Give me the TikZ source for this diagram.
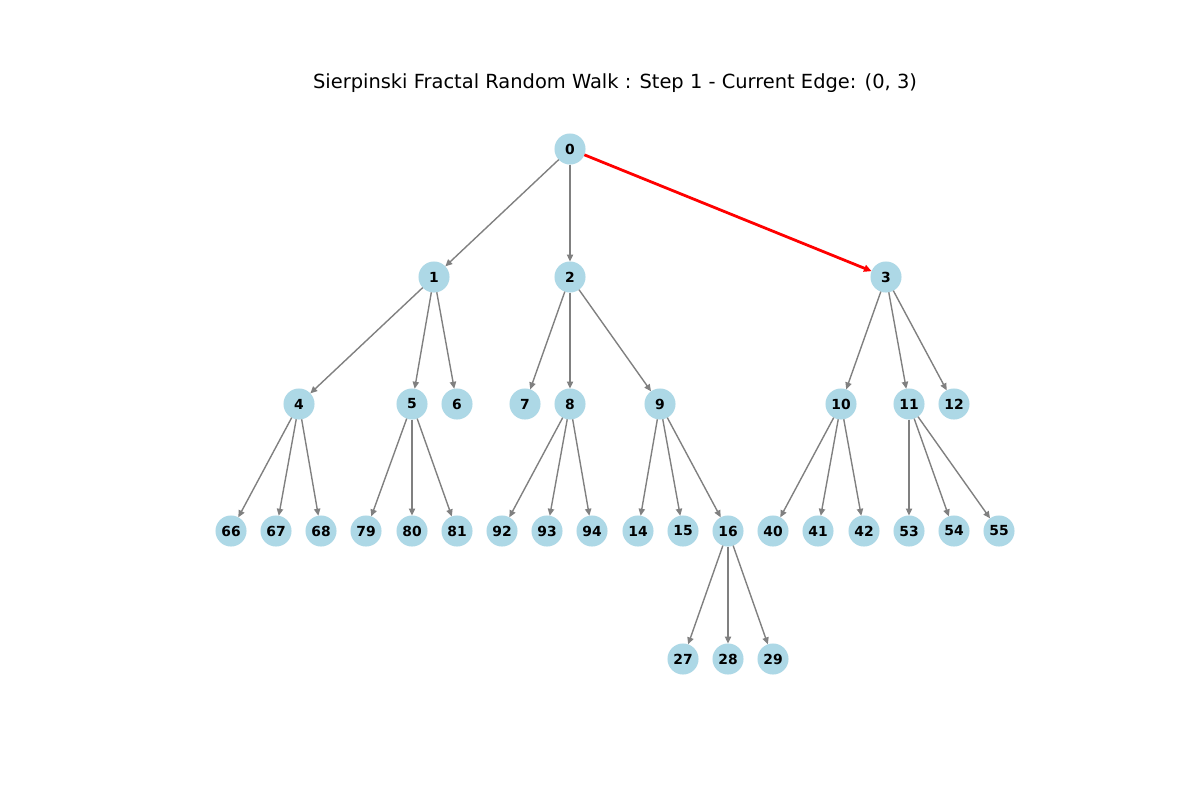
\documentclass[tikz,border=0pt]{standalone}
\usepackage{fontspec}
\setmainfont{DejaVu Sans}
\usetikzlibrary{arrows.meta}
\definecolor{nodeblue}{RGB}{173,216,230}
\definecolor{edgegray}{RGB}{128,128,128}
\tikzset{
  tn/.style={circle, fill=nodeblue, inner sep=0pt, outer sep=0pt, minimum size=22.36pt, font=\fontsize{10}{12}\selectfont\bfseries},
  ed/.style={draw=edgegray, line width=1pt, -{Triangle[length=5pt,width=4.5pt]}},
  hot/.style={draw=red, line width=2pt, -{Triangle[length=5.5pt,width=5pt]}},
}
\begin{document}
\begin{tikzpicture}[x=0.72pt, y=-0.72pt]
\useasboundingbox (0,0) rectangle (1200,800);
\fill[white] (0,0) rectangle (1200,800);
\node[anchor=base, font=\fontsize{14}{16}\selectfont] (title) at (615,88) {Sierpinski Fractal Random Walk : Step 1 - Current Edge: (0, 3)};
% level 0
\node[tn] (n0) at (570,149) {0};
% level 1
\node[tn] (n1) at (434,277) {1};
\node[tn] (n2) at (570,277) {2};
\node[tn] (n3) at (886,277) {3};
% level 2
\node[tn] (n4) at (299,404) {4};
\node[tn] (n5) at (412,404) {5};
\node[tn] (n6) at (457,404) {6};
\node[tn] (n7) at (525,404) {7};
\node[tn] (n8) at (570,404) {8};
\node[tn] (n9) at (660,404) {9};
\node[tn] (n10) at (841,404) {10};
\node[tn] (n11) at (909,404) {11};
\node[tn] (n12) at (954,404) {12};
% level 3
\node[tn] (n66) at (231,531) {66};
\node[tn] (n67) at (276,531) {67};
\node[tn] (n68) at (321,531) {68};
\node[tn] (n79) at (366,531) {79};
\node[tn] (n80) at (412,531) {80};
\node[tn] (n81) at (457,531) {81};
\node[tn] (n92) at (502,531) {92};
\node[tn] (n93) at (547,531) {93};
\node[tn] (n94) at (592,531) {94};
\node[tn] (n14) at (638,531) {14};
\node[tn] (n15) at (683,531) {15};
\node[tn] (n16) at (728,531) {16};
\node[tn] (n40) at (773,531) {40};
\node[tn] (n41) at (818,531) {41};
\node[tn] (n42) at (864,531) {42};
\node[tn] (n53) at (909,531) {53};
\node[tn] (n54) at (954,531) {54};
\node[tn] (n55) at (999,531) {55};
% level 4
\node[tn] (n27) at (683,659) {27};
\node[tn] (n28) at (728,659) {28};
\node[tn] (n29) at (773,659) {29};
% edges
\draw[ed] (n0) -- (n1);
\draw[ed] (n0) -- (n2);
\draw[hot] (n0) -- (n3);
\foreach \a/\b in {1/4,1/5,1/6,2/7,2/8,2/9,3/10,3/11,3/12,
  4/66,4/67,4/68,5/79,5/80,5/81,8/92,8/93,8/94,9/14,9/15,9/16,
  10/40,10/41,10/42,11/53,11/54,11/55,16/27,16/28,16/29}
  \draw[ed] (n\a) -- (n\b);
\end{tikzpicture}
\end{document}
